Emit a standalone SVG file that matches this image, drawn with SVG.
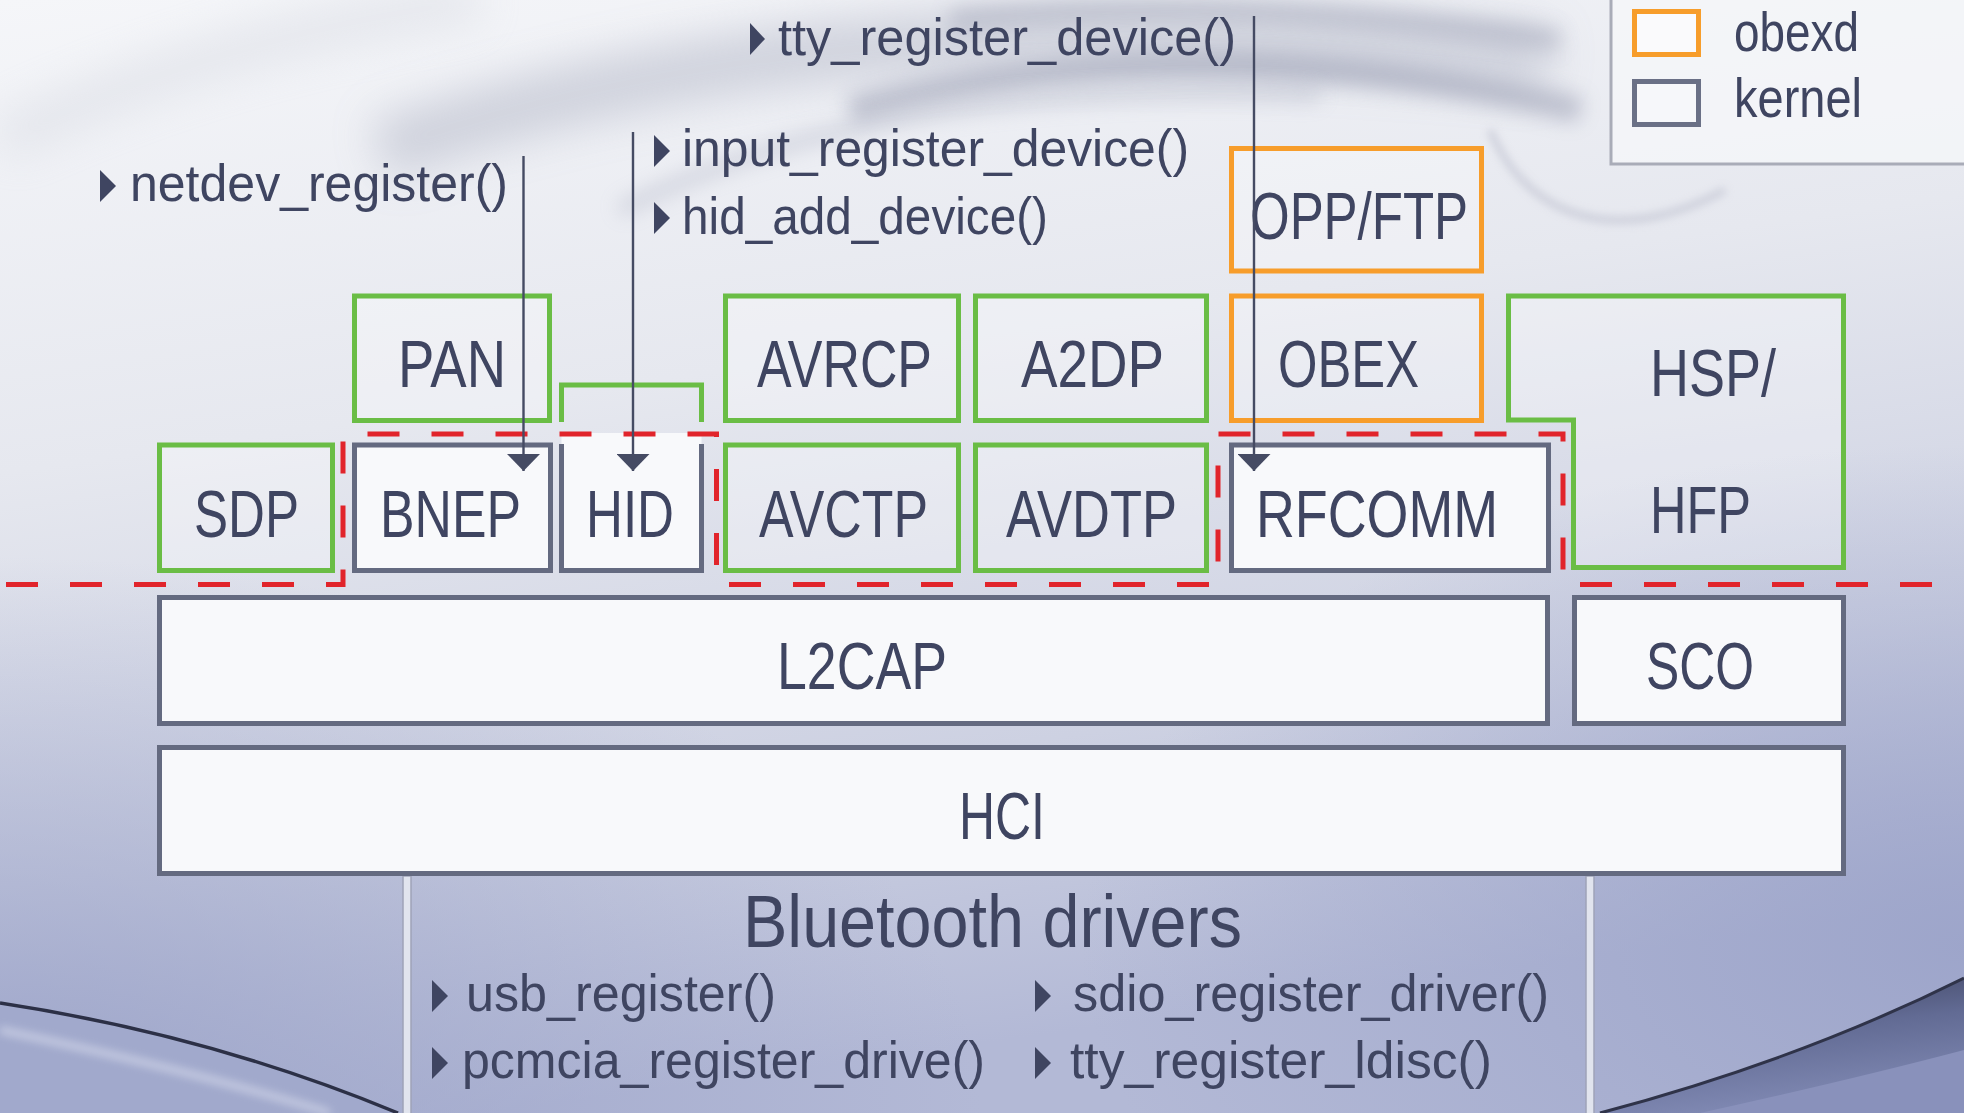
<svg xmlns="http://www.w3.org/2000/svg" width="1964" height="1113" viewBox="0 0 1964 1113">
<style>
.t{font-family:"Liberation Sans",Arial,sans-serif;fill:#3f4561}
.lbl{font-size:66px}
.fn{font-size:52px}
.g{fill:#ffffff;fill-opacity:0.3;stroke:#6abd45;stroke-width:5}
.o{fill:#ffffff;fill-opacity:0.3;stroke:#f79d2b;stroke-width:5}
.k{fill:#f8f9fb;stroke:#646a80;stroke-width:5}
.bul{fill:#3f4561}
.arr{stroke:#454b63;stroke-width:2.4;fill:none}
.red{fill:none;stroke:#e1242b;stroke-width:5;stroke-dasharray:32 32;stroke-dashoffset:58}
</style>
<defs>
<linearGradient id="bg" x1="0" y1="0" x2="0.25" y2="1">
<stop offset="0" stop-color="#f5f6f9"/>
<stop offset="0.4" stop-color="#e6e8ef"/>
<stop offset="0.75" stop-color="#cdd1e2"/>
<stop offset="1" stop-color="#b3b9d6"/>
</linearGradient>
<radialGradient id="cornerL" cx="0" cy="1" r="0.5">
<stop offset="0" stop-color="#9aa2c8" stop-opacity="0.9"/>
<stop offset="1" stop-color="#9aa2c8" stop-opacity="0"/>
</radialGradient>
<radialGradient id="cornerR" cx="1" cy="0.85" r="0.45">
<stop offset="0" stop-color="#9ba3c9" stop-opacity="0.9"/>
<stop offset="1" stop-color="#9ba3c9" stop-opacity="0"/>
</radialGradient>
<linearGradient id="swR" x1="0" y1="0" x2="0.3" y2="1">
<stop offset="0" stop-color="#3a3f5a"/>
<stop offset="0.5" stop-color="#626b94"/>
<stop offset="1" stop-color="#7f88b2"/>
</linearGradient>
<filter id="blur" filterUnits="userSpaceOnUse" x="-300" y="-300" width="2600" height="1800"><feGaussianBlur stdDeviation="22"/></filter>
<filter id="blurM" filterUnits="userSpaceOnUse" x="-300" y="-300" width="2600" height="1800"><feGaussianBlur stdDeviation="10"/></filter>
<filter id="blur2" filterUnits="userSpaceOnUse" x="-300" y="-300" width="2600" height="1800"><feGaussianBlur stdDeviation="4"/></filter>
<marker id="ah" viewBox="0 0 17 33" refX="17" refY="16.5" markerWidth="17" markerHeight="33" markerUnits="userSpaceOnUse" orient="auto">
<path d="M0,0 L17,16.5 L0,33 Z" fill="#454b63"/>
</marker>
</defs>

<g id="background">
<rect x="0" y="0" width="1964" height="1113" fill="url(#bg)"/>
<rect x="0" y="0" width="1964" height="1113" fill="url(#cornerL)"/>
<rect x="0" y="0" width="1964" height="1113" fill="url(#cornerR)"/>
<path d="M380,150 C700,40 1050,10 1550,60" stroke="#9297ad" stroke-width="60" fill="none" opacity="0.35" filter="url(#blur)"/>
<path d="M850,110 C1050,55 1300,45 1580,110" stroke="#878ca4" stroke-width="26" fill="none" opacity="0.45" filter="url(#blurM)"/>
<path d="M620,210 C820,110 1050,85 1320,95" stroke="#9a9fb4" stroke-width="14" fill="none" opacity="0.35" filter="url(#blurM)"/>
<path d="M950,20 C1150,0 1350,10 1560,40" stroke="#8d92a8" stroke-width="20" fill="none" opacity="0.4" filter="url(#blurM)"/>
<path d="M0,140 C150,70 300,25 480,0" stroke="#cdd0da" stroke-width="40" fill="none" opacity="0.4" filter="url(#blur)"/>
<path d="M1490,130 C1530,225 1625,245 1725,190" stroke="#b9bccb" stroke-width="7" fill="none" opacity="0.6" filter="url(#blur2)"/>
<path d="M0,1003 Q210,1035 398,1113 L0,1113 Z" fill="#a1a9cc"/>
<path d="M0,1030 Q190,1070 330,1113" stroke="#d0d5e8" stroke-width="7" fill="none" opacity="0.8" filter="url(#blur2)"/>
<path d="M0,1003 Q210,1035 398,1113" stroke="#2c3046" stroke-width="3.5" fill="none"/>
<path d="M1600,1113 Q1800,1060 1964,978 L1964,1113 Z" fill="url(#swR)"/>
<path d="M1700,1113 Q1850,1080 1964,1050 L1964,1113 Z" fill="#8991bb"/>
<path d="M1600,1113 Q1800,1060 1964,978" stroke="#2f3349" stroke-width="3" fill="none"/>
</g>

<g id="legend">
<rect x="1611" y="-5" width="360" height="169" fill="#f6f7fa" fill-opacity="0.75"/>
<path d="M1611,0 V164 H1964" fill="none" stroke="#a9acb8" stroke-width="3"/>
<rect x="1634.5" y="11.5" width="64" height="43" fill="#fafafc" stroke="#f79d2b" stroke-width="5"/>
<rect x="1634.5" y="81.5" width="64" height="43" fill="#f6f7fa" stroke="#6a7086" stroke-width="5"/>
<text class="t" x="1734" y="51" font-size="56" textLength="125" lengthAdjust="spacingAndGlyphs">obexd</text>
<text class="t" x="1734" y="117" font-size="56" textLength="128" lengthAdjust="spacingAndGlyphs">kernel</text>
</g>

<g id="driver-lines">
<rect x="403" y="876" width="8" height="240" fill="#e1e4ee" stroke="#9ea3b8" stroke-width="1.5"/>
<rect x="1586" y="876" width="8" height="240" fill="#e1e4ee" stroke="#9ea3b8" stroke-width="1.5"/>
</g>

<g id="node-hci"><rect class="k" x="159.5" y="747.5" width="1684" height="126"/>
<text class="t lbl" x="959" y="839" textLength="86" lengthAdjust="spacingAndGlyphs">HCI</text></g>
<g id="node-l2cap"><rect class="k" x="159.5" y="597.5" width="1388" height="126"/>
<text class="t lbl" x="777" y="689" textLength="170" lengthAdjust="spacingAndGlyphs">L2CAP</text></g>
<g id="node-sco"><rect class="k" x="1574.5" y="597.5" width="269" height="126"/>
<text class="t lbl" x="1646" y="689" textLength="108" lengthAdjust="spacingAndGlyphs">SCO</text></g>

<g id="node-sdp"><rect class="g" x="159.5" y="445" width="173" height="125.5"/>
<text class="t lbl" x="194" y="537" textLength="105" lengthAdjust="spacingAndGlyphs">SDP</text></g>
<g id="node-bnep"><rect class="k" x="354.5" y="445" width="196" height="125.5"/>
<text class="t lbl" x="380" y="537" textLength="141" lengthAdjust="spacingAndGlyphs">BNEP</text></g>
<g id="node-hid"><rect x="561.5" y="433" width="140" height="137" fill="#f8f9fb"/>
<path d="M561.5,444 V570.5 H701.5 V444" fill="none" stroke="#646a80" stroke-width="5"/>
<path d="M561.5,422 V385 H701.5 V422" fill="none" stroke="#6abd45" stroke-width="5"/>
<text class="t lbl" x="586" y="537" textLength="88" lengthAdjust="spacingAndGlyphs">HID</text></g>
<g id="node-avctp"><rect class="g" x="725.5" y="445" width="233" height="125.5"/>
<text class="t lbl" x="759" y="537" textLength="169" lengthAdjust="spacingAndGlyphs">AVCTP</text></g>
<g id="node-avdtp"><rect class="g" x="975.5" y="445" width="231" height="125.5"/>
<text class="t lbl" x="1006" y="537" textLength="171" lengthAdjust="spacingAndGlyphs">AVDTP</text></g>
<g id="node-rfcomm"><rect class="k" x="1231.5" y="445" width="317" height="125.5"/>
<text class="t lbl" x="1256" y="537" textLength="242" lengthAdjust="spacingAndGlyphs">RFCOMM</text></g>

<g id="node-pan"><rect class="g" x="354.5" y="296" width="195" height="124.5"/>
<text class="t lbl" x="398" y="387" textLength="108" lengthAdjust="spacingAndGlyphs">PAN</text></g>
<g id="node-avrcp"><rect class="g" x="725.5" y="296" width="233" height="124.5"/>
<text class="t lbl" x="757" y="387" textLength="175" lengthAdjust="spacingAndGlyphs">AVRCP</text></g>
<g id="node-a2dp"><rect class="g" x="975.5" y="296" width="231" height="124.5"/>
<text class="t lbl" x="1021" y="387" textLength="143" lengthAdjust="spacingAndGlyphs">A2DP</text></g>
<g id="node-obex"><rect class="o" x="1231.5" y="296" width="250" height="124.5"/>
<text class="t lbl" x="1278" y="387" textLength="141" lengthAdjust="spacingAndGlyphs">OBEX</text></g>
<g id="node-oppftp"><rect class="o" x="1231.5" y="148.5" width="250" height="122.5"/>
<text class="t lbl" x="1250" y="239" textLength="218" lengthAdjust="spacingAndGlyphs">OPP/FTP</text></g>
<g id="node-hsphfp"><path class="g" d="M1508.5,296 H1843.5 V567.5 H1573.5 V420 H1508.5 Z"/>
<text class="t lbl" x="1650" y="396" textLength="126" lengthAdjust="spacingAndGlyphs">HSP/</text>
<text class="t lbl" x="1650" y="533" textLength="101" lengthAdjust="spacingAndGlyphs">HFP</text></g>

<g id="boundary">
<polyline class="red" points="0,584.5 343,584.5 343,434 716.5,434 716.5,584.5 1218,584.5 1218,434 1563,434 1563,584.5 1964,584.5"/>
</g>

<g id="connectors">
<line class="arr" x1="523.5" y1="156" x2="523.5" y2="471" marker-end="url(#ah)"/>
<line class="arr" x1="633" y1="132" x2="633" y2="471" marker-end="url(#ah)"/>
<line class="arr" x1="1254" y1="16" x2="1254" y2="471" marker-end="url(#ah)"/>
</g>

<g id="api-labels">
<path class="bul" d="M750,23 L765,39 L750,55 Z"/>
<text class="t fn" x="778" y="55" textLength="458" lengthAdjust="spacingAndGlyphs">tty_register_device()</text>
<path class="bul" d="M100,170 L116,186 L100,202 Z"/>
<text class="t fn" x="130" y="201" textLength="378" lengthAdjust="spacingAndGlyphs">netdev_register()</text>
<path class="bul" d="M654,135 L670,151 L654,167 Z"/>
<text class="t fn" x="682" y="166" textLength="507" lengthAdjust="spacingAndGlyphs">input_register_device()</text>
<path class="bul" d="M654,202 L670,218 L654,234 Z"/>
<text class="t fn" x="682" y="234" textLength="366" lengthAdjust="spacingAndGlyphs">hid_add_device()</text>
</g>

<g id="drivers">
<text class="t" x="743" y="947" font-size="75" textLength="499" lengthAdjust="spacingAndGlyphs">Bluetooth drivers</text>
<path class="bul" d="M432,980 L448,996 L432,1012 Z"/>
<text class="t fn" x="466" y="1011" textLength="310" lengthAdjust="spacingAndGlyphs">usb_register()</text>
<path class="bul" d="M432,1047 L448,1063 L432,1079 Z"/>
<text class="t fn" x="462" y="1078" textLength="523" lengthAdjust="spacingAndGlyphs">pcmcia_register_drive()</text>
<path class="bul" d="M1035,980 L1051,996 L1035,1012 Z"/>
<text class="t fn" x="1073" y="1011" textLength="476" lengthAdjust="spacingAndGlyphs">sdio_register_driver()</text>
<path class="bul" d="M1035,1047 L1051,1063 L1035,1079 Z"/>
<text class="t fn" x="1070" y="1078" textLength="422" lengthAdjust="spacingAndGlyphs">tty_register_ldisc()</text>
</g>
</svg>
